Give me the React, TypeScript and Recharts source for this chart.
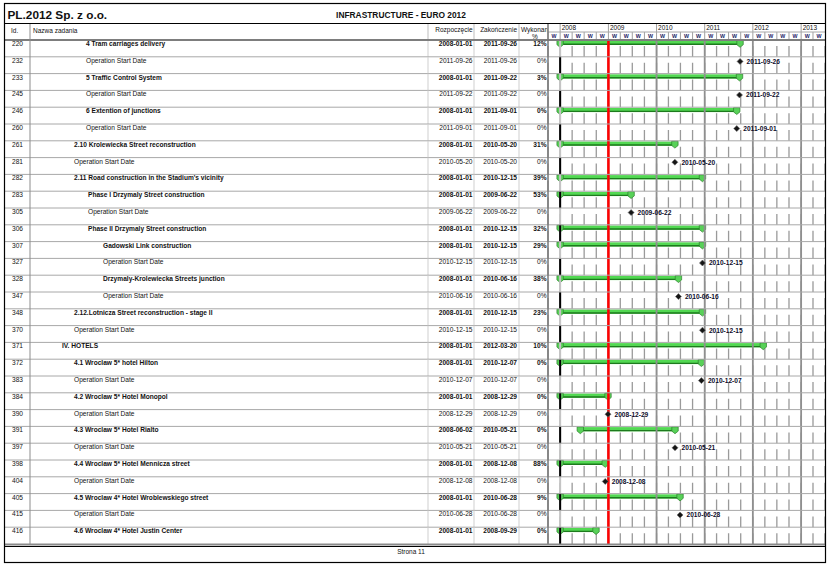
import React from 'react';
import { Bar, CartesianGrid, ComposedChart, ReferenceLine, Scatter, XAxis, YAxis } from 'recharts';

const ids = [220, 232, 233, 245, 246, 260, 261, 281, 282, 283, 305, 306, 307, 327, 328, 347, 348, 370, 371, 372, 383, 384, 390, 391, 397, 398, 404, 405, 415, 416];

const names = [
  '4 Tram carriages delivery',
  'Operation Start Date',
  '5 Traffic Control System',
  'Operation Start Date',
  '6 Extention of junctions',
  'Operation Start Date',
  '2.10 Krolewiecka Street reconstruction',
  'Operation Start Date',
  "2.11 Road construction in the Stadium's vicinity",
  'Phase I  Drzymaly Street construction',
  'Operation Start Date',
  'Phase II Drzymaly Street construction',
  'Gadowski Link construction',
  'Operation Start Date',
  'Drzymaly-Krolewiecka Streets junction',
  'Operation Start Date',
  '2.12.Lotnicza Street reconstruction - stage II',
  'Operation Start Date',
  'IV. HOTELS',
  '4.1 Wroclaw 5* hotel Hilton',
  'Operation Start Date',
  '4.2 Wroclaw 5* Hotel Monopol',
  'Operation Start Date',
  '4.3 Wroclaw 5* Hotel Rialto',
  'Operation Start Date',
  '4.4 Wroclaw 5* Hotel Mennicza street',
  'Operation Start Date',
  '4.5 Wroclaw 4* Hotel Wroblewskiego street',
  'Operation Start Date',
  '4.6 Wroclaw 4* Hotel Justin Center',
];

// outline level of each task (drives indentation only)
const levels = [3, 3, 3, 3, 3, 3, 2, 2, 2, 4, 4, 4, 5, 5, 5, 5, 2, 2, 1, 2, 2, 2, 2, 2, 2, 2, 2, 2, 2, 2];

const starts = [
  '2008-01-01', '2011-09-26', '2008-01-01', '2011-09-22', '2008-01-01', '2011-09-01',
  '2008-01-01', '2010-05-20', '2008-01-01', '2008-01-01', '2009-06-22', '2008-01-01',
  '2008-01-01', '2010-12-15', '2008-01-01', '2010-06-16', '2008-01-01', '2010-12-15',
  '2008-01-01', '2008-01-01', '2010-12-07', '2008-01-01', '2008-12-29', '2008-06-02',
  '2010-05-21', '2008-01-01', '2008-12-08', '2008-01-01', '2010-06-28', '2008-01-01',
];

const ends = [
  '2011-09-26', '2011-09-26', '2011-09-22', '2011-09-22', '2011-09-01', '2011-09-01',
  '2010-05-20', '2010-05-20', '2010-12-15', '2009-06-22', '2009-06-22', '2010-12-15',
  '2010-12-15', '2010-12-15', '2010-06-16', '2010-06-16', '2010-12-15', '2010-12-15',
  '2012-03-20', '2010-12-07', '2010-12-07', '2008-12-29', '2008-12-29', '2010-05-21',
  '2010-05-21', '2008-12-08', '2008-12-08', '2010-06-28', '2010-06-28', '2008-09-29',
];

const done = [12, 0, 3, 0, 0, 0, 31, 0, 39, 53, 0, 32, 29, 0, 38, 0, 23, 0, 10, 0, 0, 0, 0, 0, 0, 88, 0, 9, 0, 0];

const quarterTicks = [
  '2007-10-01',
  '2008-01-01', '2008-04-01', '2008-07-01', '2008-10-01',
  '2009-01-01', '2009-04-01', '2009-07-01', '2009-10-01',
  '2010-01-01', '2010-04-01', '2010-07-01', '2010-10-01',
  '2011-01-01', '2011-04-01', '2011-07-01', '2011-10-01',
  '2012-01-01', '2012-04-01', '2012-07-01', '2012-10-01',
  '2013-01-01', '2013-04-01',
];
const yearStarts = ['2009-01-01', '2010-01-01', '2011-01-01', '2012-01-01', '2013-01-01'];
const projectStart = '2008-01-01';
const statusDate = '2009-01-01';
const timeDomain = ['2007-10-01', '2013-07-01'];

const W = 831;
const H = 567;
const TOP = 40;
const BOTTOM = 544;
const ROW_H = (BOTTOM - TOP) / ids.length;
const FONT = '"Liberation Sans", Arial, Helvetica, sans-serif';
const INDENT: Record<number, number> = { 1: 62, 2: 74, 3: 86, 4: 88, 5: 103 };

const day = (s: string) => Date.parse(s + 'T00:00:00Z');

const rows = ids.map((id, i) => {
  const milestone = starts[i] === ends[i];
  return {
    id,
    name: names[i],
    level: levels[i],
    start: starts[i],
    end: ends[i],
    pct: done[i],
    milestone,
    span: milestone ? null : [day(starts[i]), day(ends[i])],
    ms: milestone ? day(starts[i]) : null,
  };
});
const rowById: Record<string, (typeof rows)[number]> = {};
rows.forEach((r) => (rowById[String(r.id)] = r));

function RowTick(props: any) {
  const { y, payload } = props;
  const r = rowById[String(payload.value)];
  if (!r) return null;
  const top = y - ROW_H / 2;
  const base = top + 6;
  const weight = r.milestone ? 'normal' : 'bold';
  return (
    <g fontFamily={FONT} fontSize={6.6} fill="#111">
      <line x1={5} x2={825} y1={top} y2={top} stroke="#a8a8a8" strokeWidth={1} />
      {[428, 474, 519].map((cx) => (
        <line key={cx} x1={cx} x2={cx} y1={top} y2={top + ROW_H} stroke="#cfcfcf" strokeWidth={1} />
      ))}
      <text x={12} y={base}>{r.id}</text>
      <text x={INDENT[r.level]} y={base} fontWeight={weight}>{r.name}</text>
      <text x={472.5} y={base} textAnchor="end" fontWeight={weight}>{r.start}</text>
      <text x={517} y={base} textAnchor="end" fontWeight={weight}>{r.end}</text>
      <text x={546.5} y={base} textAnchor="end" fontWeight={weight}>{r.pct}%</text>
    </g>
  );
}

function TimeTick(props: any) {
  const { x, payload } = props;
  const d = new Date(payload.value);
  const isYear = d.getUTCMonth() === 0;
  return (
    <g fontFamily={FONT}>
      <line x1={x} x2={x} y1={isYear ? 24 : 32} y2={40} stroke="#a0a0a0" strokeWidth={1} />
      {isYear && (
        <text x={x + 1.5} y={30.3} fontSize={6.5} fill="#111">{d.getUTCFullYear()}</text>
      )}
      <text x={x + 6} y={38.3} fontSize={5.3} fontWeight="bold" textAnchor="middle" fill="#1b1b66">W</text>
    </g>
  );
}

function SummaryBar(props: any) {
  const { x, y, width, height, payload } = props;
  if (!payload || !payload.span) return null;
  const top = y + height / 2 - 7.3;
  const cap = (cx: number) =>
    `M${cx - 3.2},${top - 0.3} L${cx + 3.2},${top - 0.3} L${cx + 3.2},${top + 4} L${cx},${top + 6.6} L${cx - 3.2},${top + 4} Z`;
  return (
    <g>
      <rect x={x} y={top} width={width} height={4.2} fill="#52d852" />
      <line x1={x} x2={x + width} y1={top + 3.5} y2={top + 3.5} stroke="#1d7a1d" strokeWidth={1.4} />
      <path d={cap(x)} fill="#58d158" stroke="#2b7f2b" strokeWidth={0.7} />
      <path d={cap(x + width)} fill="#58d158" stroke="#2b7f2b" strokeWidth={0.7} />
    </g>
  );
}

function Milestone(props: any) {
  const { cx, cy, payload } = props;
  if (!payload || payload.ms == null || cx == null || cy == null) return null;
  const my = cy - ROW_H / 2 + 4.6;
  return (
    <g>
      <path
        d={`M${cx},${my - 3} L${cx + 3},${my} L${cx},${my + 3} L${cx - 3},${my} Z`}
        fill="#151515"
        stroke="#6a6a6a"
        strokeWidth={0.6}
      />
      <text x={cx + 6.5} y={my + 2.3} fontFamily={FONT} fontSize={6.6} fontWeight="bold" fill="#0d0d2a">
        {payload.start}
      </text>
    </g>
  );
}

function Frame() {
  const hdr = { fontSize: 6.5, fill: '#111' };
  return (
    <svg
      width={W}
      height={H}
      style={{ position: 'absolute', left: 0, top: 0, pointerEvents: 'none' }}
      fontFamily={FONT}
    >
      <defs>
        <clipPath id="wyk">
          <rect x={519} y={24} width={28.5} height={16} />
        </clipPath>
      </defs>
      <text x={7.5} y={18.5} fontSize={11.8} fontWeight="bold" fill="#111">PL.2012 Sp. z o.o.</text>
      <text x={401} y={17.5} fontSize={8.4} fontWeight="bold" textAnchor="middle" fill="#111">
        INFRASTRUCTURE - EURO 2012
      </text>
      <line x1={4.5} x2={825.5} y1={23.5} y2={23.5} stroke="#000" strokeWidth={1} />
      {[428, 474, 519].map((cx) => (
        <line key={cx} x1={cx} x2={cx} y1={24} y2={40} stroke="#bdbdbd" strokeWidth={1} />
      ))}
      <line x1={548} x2={825} y1={32} y2={32} stroke="#a8a8a8" strokeWidth={1} />
      <text x={11} y={32.5} {...hdr}>Id.</text>
      <text x={33} y={32.5} {...hdr}>Nazwa zadania</text>
      <text x={472.5} y={31.5} textAnchor="end" {...hdr}>Rozpoczęcie</text>
      <text x={517} y={31.5} textAnchor="end" {...hdr}>Zakończenie</text>
      <text x={521} y={31.5} clipPath="url(#wyk)" {...hdr}>Wykonano</text>
      <text x={535} y={38.5} textAnchor="middle" {...hdr}>%</text>
      <line x1={4.5} x2={825.5} y1={40} y2={40} stroke="#7d7d7d" strokeWidth={2} />
      <line x1={30} x2={30} y1={24} y2={544} stroke="#8c8c8c" strokeWidth={1} />
      <line x1={548} x2={548} y1={24} y2={544} stroke="#767676" strokeWidth={1.5} />
      <line x1={4.5} x2={825.5} y1={544.5} y2={544.5} stroke="#8a8a8a" strokeWidth={2} />
      <line x1={4.5} x2={825.5} y1={546.5} y2={546.5} stroke="#000" strokeWidth={1} />
      <text x={411} y={554} textAnchor="middle" {...hdr}>Strona 11</text>
      <rect x={4.5} y={3.5} width={821} height={559} fill="none" stroke="#000" strokeWidth={1.2} />
    </svg>
  );
}

export default function App() {
  return (
    <div style={{ position: 'absolute', left: 0, top: 0, width: W, height: H, background: '#fff' }}>
      <ComposedChart
        layout="vertical"
        width={W}
        height={H}
        data={rows}
        margin={{ top: 24, right: W - 825, bottom: H - BOTTOM, left: 0 }}
        barSize={4}
      >
        <CartesianGrid horizontal={false} stroke="#9a9a9a" strokeWidth={1.3} strokeDasharray={`0 6 ${ROW_H - 6} 0`} />
        <XAxis
          type="number"
          orientation="top"
          height={16}
          domain={timeDomain.map(day)}
          allowDataOverflow
          ticks={quarterTicks.map(day)}
          interval={0}
          tick={(p: any) => <TimeTick {...p} />}
          axisLine={false}
          tickLine={false}
        />
        <YAxis
          type="category"
          dataKey="id"
          width={548}
          allowDuplicatedCategory={false}
          interval={0}
          tick={(p: any) => <RowTick {...p} />}
          axisLine={false}
          tickLine={false}
        />
        {yearStarts.map((s) => (
          <ReferenceLine key={s} x={day(s)} stroke="#8f8f8f" strokeWidth={1.8} />
        ))}
        <ReferenceLine x={day(projectStart)} stroke="#c4c4c4" strokeWidth={2} />
        <ReferenceLine
          x={day(projectStart)}
          stroke="#000"
          strokeWidth={2}
          strokeDasharray={`0 ${ROW_H} ${ROW_H} 0`}
        />
        <Bar dataKey="span" shape={(p: any) => <SummaryBar {...p} />} isAnimationActive={false} />
        <Scatter dataKey="ms" shape={(p: any) => <Milestone {...p} />} isAnimationActive={false} />
        <ReferenceLine x={day(statusDate)} stroke="#ff0000" strokeWidth={2.5} />
      </ComposedChart>
      <Frame />
    </div>
  );
}
